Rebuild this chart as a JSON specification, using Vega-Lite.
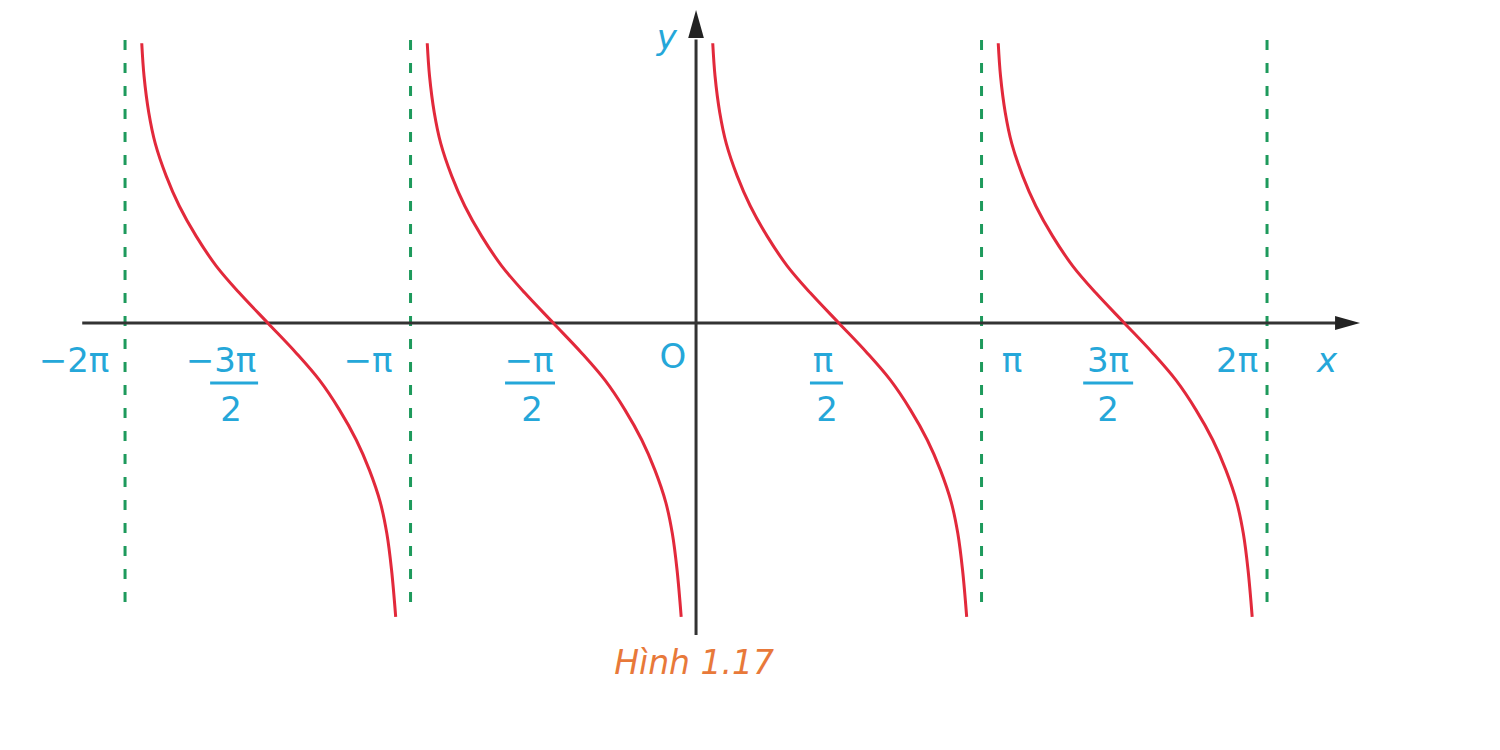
{
  "$schema": "https://vega.github.io/schema/vega-lite/v6.json",
  "width": 1500,
  "height": 750,
  "padding": 0,
  "autosize": {"type": "none"},
  "background": "white",
  "config": {"view": {"stroke": null}},
  "datasets": {
    "curves": [
      {"branch": "a", "x": -1.9415, "y": 5.38},
      {"branch": "a", "x": -1.9335, "y": 4.75},
      {"branch": "a", "x": -1.917, "y": 4.05},
      {"branch": "a", "x": -1.894, "y": 3.45},
      {"branch": "a", "x": -1.856, "y": 2.83},
      {"branch": "a", "x": -1.81, "y": 2.25},
      {"branch": "a", "x": -1.751, "y": 1.67},
      {"branch": "a", "x": -1.681, "y": 1.1},
      {"branch": "a", "x": -1.6, "y": 0.58},
      {"branch": "a", "x": -1.5, "y": 0},
      {"branch": "a", "x": -1.4, "y": -0.58},
      {"branch": "a", "x": -1.319, "y": -1.1},
      {"branch": "a", "x": -1.249, "y": -1.67},
      {"branch": "a", "x": -1.19, "y": -2.25},
      {"branch": "a", "x": -1.144, "y": -2.83},
      {"branch": "a", "x": -1.106, "y": -3.45},
      {"branch": "a", "x": -1.083, "y": -4.05},
      {"branch": "a", "x": -1.0665, "y": -4.75},
      {"branch": "a", "x": -1.052, "y": -5.65},
      {"branch": "b", "x": -0.9415, "y": 5.38},
      {"branch": "b", "x": -0.9335, "y": 4.75},
      {"branch": "b", "x": -0.917, "y": 4.05},
      {"branch": "b", "x": -0.894, "y": 3.45},
      {"branch": "b", "x": -0.856, "y": 2.83},
      {"branch": "b", "x": -0.81, "y": 2.25},
      {"branch": "b", "x": -0.751, "y": 1.67},
      {"branch": "b", "x": -0.681, "y": 1.1},
      {"branch": "b", "x": -0.6, "y": 0.58},
      {"branch": "b", "x": -0.5, "y": 0},
      {"branch": "b", "x": -0.4, "y": -0.58},
      {"branch": "b", "x": -0.319, "y": -1.1},
      {"branch": "b", "x": -0.249, "y": -1.67},
      {"branch": "b", "x": -0.19, "y": -2.25},
      {"branch": "b", "x": -0.144, "y": -2.83},
      {"branch": "b", "x": -0.106, "y": -3.45},
      {"branch": "b", "x": -0.083, "y": -4.05},
      {"branch": "b", "x": -0.0665, "y": -4.75},
      {"branch": "b", "x": -0.052, "y": -5.65},
      {"branch": "c", "x": 0.0585, "y": 5.38},
      {"branch": "c", "x": 0.0665, "y": 4.75},
      {"branch": "c", "x": 0.083, "y": 4.05},
      {"branch": "c", "x": 0.106, "y": 3.45},
      {"branch": "c", "x": 0.144, "y": 2.83},
      {"branch": "c", "x": 0.19, "y": 2.25},
      {"branch": "c", "x": 0.249, "y": 1.67},
      {"branch": "c", "x": 0.319, "y": 1.1},
      {"branch": "c", "x": 0.4, "y": 0.58},
      {"branch": "c", "x": 0.5, "y": 0},
      {"branch": "c", "x": 0.6, "y": -0.58},
      {"branch": "c", "x": 0.681, "y": -1.1},
      {"branch": "c", "x": 0.751, "y": -1.67},
      {"branch": "c", "x": 0.81, "y": -2.25},
      {"branch": "c", "x": 0.856, "y": -2.83},
      {"branch": "c", "x": 0.894, "y": -3.45},
      {"branch": "c", "x": 0.917, "y": -4.05},
      {"branch": "c", "x": 0.9335, "y": -4.75},
      {"branch": "c", "x": 0.948, "y": -5.65},
      {"branch": "d", "x": 1.0585, "y": 5.38},
      {"branch": "d", "x": 1.0665, "y": 4.75},
      {"branch": "d", "x": 1.083, "y": 4.05},
      {"branch": "d", "x": 1.106, "y": 3.45},
      {"branch": "d", "x": 1.144, "y": 2.83},
      {"branch": "d", "x": 1.19, "y": 2.25},
      {"branch": "d", "x": 1.249, "y": 1.67},
      {"branch": "d", "x": 1.319, "y": 1.1},
      {"branch": "d", "x": 1.4, "y": 0.58},
      {"branch": "d", "x": 1.5, "y": 0},
      {"branch": "d", "x": 1.6, "y": -0.58},
      {"branch": "d", "x": 1.681, "y": -1.1},
      {"branch": "d", "x": 1.751, "y": -1.67},
      {"branch": "d", "x": 1.81, "y": -2.25},
      {"branch": "d", "x": 1.856, "y": -2.83},
      {"branch": "d", "x": 1.894, "y": -3.45},
      {"branch": "d", "x": 1.917, "y": -4.05},
      {"branch": "d", "x": 1.9335, "y": -4.75},
      {"branch": "d", "x": 1.948, "y": -5.65}
    ],
    "asymptotes": [
      {"x": -2, "y": 5.44, "y2": -5.6},
      {"x": -1, "y": 5.44, "y2": -5.6},
      {"x": 1, "y": 5.44, "y2": -5.6},
      {"x": 2, "y": 5.44, "y2": -5.6}
    ],
    "labels": [
      {"label": "−2π", "x": -2.179, "y": -0.75},
      {"label": "−3π", "x": -1.664, "y": -0.75},
      {"label": "2", "x": -1.629, "y": -1.69},
      {"label": "−π", "x": -1.149, "y": -0.75},
      {"label": "−π", "x": -0.585, "y": -0.75},
      {"label": "2", "x": -0.574, "y": -1.69},
      {"label": "O", "x": -0.081, "y": -0.67},
      {"label": "π", "x": 0.445, "y": -0.75},
      {"label": "2", "x": 0.459, "y": -1.69},
      {"label": "π", "x": 1.107, "y": -0.75},
      {"label": "3π", "x": 1.443, "y": -0.75},
      {"label": "2", "x": 1.443, "y": -1.69},
      {"label": "2π", "x": 1.895, "y": -0.75}
    ],
    "fractionBars": [
      {"x": -1.702, "x2": -1.534, "y": -1.154},
      {"x": -0.669, "x2": -0.494, "y": -1.154},
      {"x": 0.399, "x2": 0.515, "y": -1.154},
      {"x": 1.356, "x2": 1.531, "y": -1.154}
    ],
    "axisNames": [
      {"label": "x", "x": 2.21, "y": -0.75},
      {"label": "y", "x": -0.102, "y": 5.46}
    ]
  },
  "encoding": {
    "x": {
      "field": "x",
      "type": "quantitative",
      "scale": {"domain": [-2.438, 2.816], "nice": false, "zero": false},
      "axis": null
    },
    "y": {
      "field": "y",
      "type": "quantitative",
      "scale": {"domain": [-8.2115, 6.2115], "nice": false, "zero": false},
      "axis": null
    }
  },
  "layer": [
    {
      "data": {"name": "asymptotes"},
      "mark": {"type": "rule", "color": "#1e9a5c", "strokeWidth": 3, "strokeDash": [10, 13]},
      "encoding": {"y2": {"field": "y2"}}
    },
    {
      "data": {"values": [{"x": -2.15, "x2": 2.256, "y": 0}]},
      "mark": {"type": "rule", "color": "#333333", "strokeWidth": 3},
      "encoding": {"x2": {"field": "x2"}}
    },
    {
      "data": {"values": [{"x": 0, "y": -6.0, "y2": 5.45}]},
      "mark": {"type": "rule", "color": "#333333", "strokeWidth": 3},
      "encoding": {"y2": {"field": "y2"}}
    },
    {
      "data": {"values": [{"x": 2.282, "y": 0}]},
      "mark": {
        "type": "point",
        "shape": "M-1,-0.56L1,0L-1,0.56Z",
        "size": 625,
        "filled": true,
        "opacity": 1,
        "color": "#222222"
      },
      "encoding": {}
    },
    {
      "data": {"values": [{"x": 0, "y": 5.75}]},
      "mark": {
        "type": "point",
        "shape": "M-0.56,1L0,-1L0.56,1Z",
        "size": 784,
        "filled": true,
        "opacity": 1,
        "color": "#222222"
      },
      "encoding": {}
    },
    {
      "data": {"name": "curves"},
      "mark": {"type": "line", "color": "#e2293b", "strokeWidth": 3, "interpolate": "catmull-rom"},
      "encoding": {"detail": {"field": "branch"}}
    },
    {
      "data": {"name": "fractionBars"},
      "mark": {"type": "rule", "color": "#25a7d9", "strokeWidth": 3},
      "encoding": {"x2": {"field": "x2"}}
    },
    {
      "data": {"name": "labels"},
      "mark": {
        "type": "text",
        "font": "DejaVu Sans",
        "fontSize": 34,
        "align": "center",
        "baseline": "middle",
        "color": "#25a7d9"
      },
      "encoding": {"text": {"field": "label"}}
    },
    {
      "data": {"name": "axisNames"},
      "mark": {
        "type": "text",
        "font": "DejaVu Sans",
        "fontSize": 34,
        "fontStyle": "italic",
        "align": "center",
        "baseline": "middle",
        "color": "#25a7d9"
      },
      "encoding": {"text": {"field": "label"}}
    },
    {
      "data": {"values": [{"caption": "Hình 1.17", "x": -0.007, "y": -6.56}]},
      "mark": {
        "type": "text",
        "font": "DejaVu Sans",
        "fontSize": 33,
        "fontStyle": "italic",
        "align": "center",
        "baseline": "middle",
        "color": "#e8793a"
      },
      "encoding": {"text": {"field": "caption"}}
    }
  ]
}
